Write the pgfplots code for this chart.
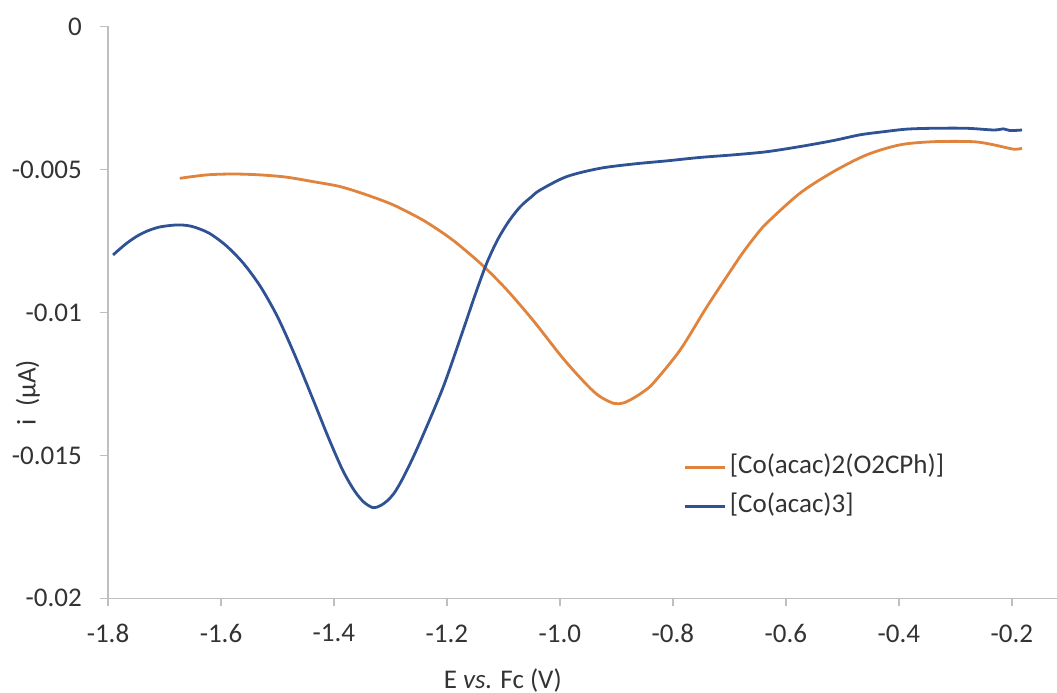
\documentclass[border=0pt]{standalone}
\usepackage{pgfplots}
\pgfplotsset{compat=1.18}
\usepackage{fontspec}
\setmainfont{Carlito}

\definecolor{cvorange}{RGB}{224,131,61}
\definecolor{cvblue}{RGB}{47,82,148}
\definecolor{axgray}{RGB}{191,191,191}

% square-wave voltammograms, current vs potential referenced to ferrocene
\pgfplotstableread{
E        i
-1.673  -0.00531
-1.625  -0.00519
-1.578  -0.00516
-1.531  -0.00519
-1.484  -0.00527
-1.436  -0.00543
-1.389  -0.00560
-1.342  -0.00589
-1.295  -0.00624
-1.248  -0.00671
-1.224  -0.00700
-1.200  -0.00732
-1.177  -0.00767
-1.136  -0.00837
-1.094  -0.00921
-1.047  -0.01029
-0.994  -0.01162
-0.952  -0.01254
-0.930  -0.01293
-0.905  -0.01318
-0.888  -0.01317
-0.870  -0.01300
-0.852  -0.01277
-0.834  -0.01246
-0.787  -0.01131
-0.740  -0.00981
-0.693  -0.00840
-0.675  -0.00788
-0.655  -0.00736
-0.634  -0.00688
-0.575  -0.00583
-0.516  -0.00508
-0.457  -0.00449
-0.398  -0.00414
-0.339  -0.00403
-0.268  -0.00403
-0.232  -0.00414
-0.197  -0.00429
-0.182  -0.00426
}\benzoate

\pgfplotstableread{
E        i
-1.791  -0.00799
-1.770  -0.00763
-1.750  -0.00735
-1.730  -0.00715
-1.710  -0.00702
-1.690  -0.00696
-1.675  -0.00694
-1.660  -0.00696
-1.645  -0.00703
-1.620  -0.00724
-1.590  -0.00768
-1.560  -0.00829
-1.530  -0.00910
-1.500  -0.01015
-1.470  -0.01146
-1.440  -0.01290
-1.410  -0.01437
-1.385  -0.01550
-1.365  -0.01620
-1.348  -0.01662
-1.331  -0.01683
-1.318  -0.01676
-1.305  -0.01658
-1.292  -0.01628
-1.278  -0.01580
-1.262  -0.01516
-1.242  -0.01428
-1.206  -0.01258
-1.171  -0.01060
-1.150  -0.00938
-1.130  -0.00830
-1.110  -0.00745
-1.090  -0.00680
-1.070  -0.00630
-1.050  -0.00595
-1.035  -0.00572
-0.988  -0.00525
-0.929  -0.00496
-0.870  -0.00481
-0.811  -0.00470
-0.752  -0.00458
-0.693  -0.00449
-0.634  -0.00438
-0.575  -0.00420
-0.516  -0.00399
-0.469  -0.00379
-0.427  -0.00368
-0.386  -0.00359
-0.339  -0.00356
-0.280  -0.00356
-0.232  -0.00362
-0.215  -0.00358
-0.203  -0.00364
-0.182  -0.00362
}\trisacac

\begin{document}
\fontsize{27}{32}\selectfont
\begin{tikzpicture}
\useasboundingbox (-108pt,-94.7pt) rectangle (949pt,598.3pt);
\begin{axis}[
  at={(0,0)}, anchor=south west,
  scale only axis, width=949pt, height=571.8pt,
  xmin=-1.8, xmax=-0.12, ymin=-0.02, ymax=0,
  axis x line*=bottom, axis y line*=left,
  axis line style={axgray, line width=1.5pt},
  xtick={-1.8,-1.6,-1.4,-1.2,-1.0,-0.8,-0.6,-0.4,-0.2},
  xticklabels={-1.8,-1.6,-1.4,-1.2,-1.0,-0.8,-0.6,-0.4,-0.2},
  ytick={-0.02,-0.015,-0.01,-0.005,0},
  yticklabels={-0.02,-0.015,-0.01,-0.005,0},
  scaled x ticks=false, scaled y ticks=false,
  tick align=outside, major tick length=8pt,
  tick style={axgray, line width=1.5pt},
  tick label style={font=\fontsize{27}{32}\selectfont, text=black!80},
  yticklabel style={anchor=east, inner sep=0pt, xshift=-18pt},
  xticklabel style={anchor=north, inner sep=0pt, yshift=-18pt},
  every axis x label/.style={at={(axis description cs:0.416,-0.143)}, anchor=center},
  every axis y label/.style={at={(axis description cs:-0.0843,0.36)}, rotate=90, anchor=center},
  xlabel={E \textit{vs.} Fc (V)},
  ylabel={i\ \ (µA)},
  label style={font=\fontsize{27}{32}\selectfont, text=black!80},
  legend cell align=left,
  legend style={at={(axis description cs:0.606,0.2524)}, anchor=north west,
    draw=none, fill=none, inner sep=0pt, outer sep=0pt,
    row sep=12pt, column sep=4pt,
    nodes={inner sep=0pt, text height=20pt, text depth=7pt,
      font=\fontsize{27}{32}\selectfont, text=black!80}},
  legend image code/.code={\draw[#1, line width=2.8pt] (0pt,0pt) -- (40pt,0pt);},
]
\addplot[cvorange, line width=2.8pt, smooth] table[x=E, y=i] {\benzoate};
\addlegendentry{[Co(acac)2(O2CPh)]}
\addplot[cvblue, line width=2.8pt, smooth] table[x=E, y=i] {\trisacac};
\addlegendentry{[Co(acac)3]}
\end{axis}
\end{tikzpicture}
\end{document}
